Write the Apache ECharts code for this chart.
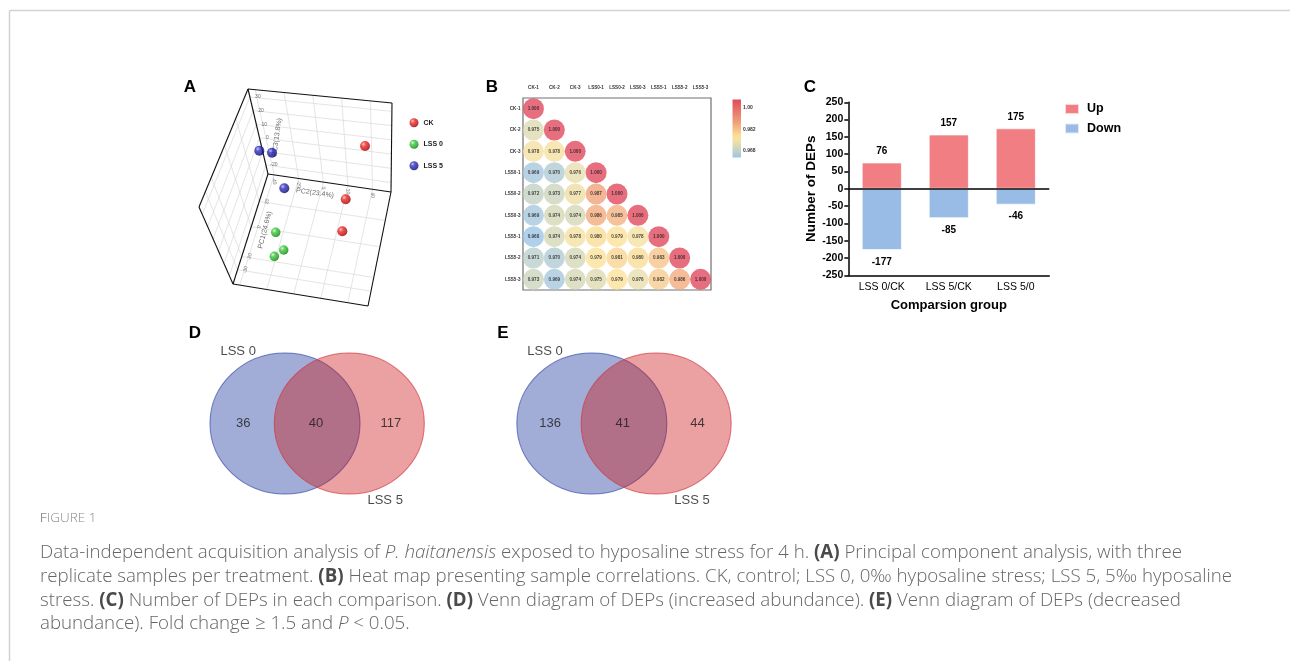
<!DOCTYPE html>
<html><head><meta charset="utf-8">
<script src="https://cdn.jsdelivr.net/npm/echarts@6/dist/echarts.min.js"></script>
<style>html,body{margin:0;padding:0;background:#fff}#c{width:1290px;height:661px}</style>
</head><body><div id="c"></div>
<script>
// ================= DATA =================
// (A) PCA – positions read from the projected 3D view (projection-plane units)
const pcaGroups = ['CK', 'LSS 0', 'LSS 5'];
const pcaCK   = [[185, 71], [165.7, 124.3], [162.3, 156.3]];
const pcaLSS0 = [[95.7, 157.3], [103.7, 175], [94.3, 181.3]];
const pcaLSS5 = [[79.3, 75.7], [92, 77.7], [104.3, 113.3]];
const pcaAxisTitles = ['PC1(24.6%)', 'PC2(23.4%)', 'PC3(13.8%)'];
const pc1TickLabels = ['20', '0', '-20', '-30'];
const pc2TickLabels = ['-40', '-20', '0', '20', '40'];
const pc3TickLabels = ['-20', '-10', '0', '10', '20', '30'];

// (B) sample correlations (lower triangle)
const samples = ['CK-1', 'CK-2', 'CK-3', 'LSS0-1', 'LSS0-2', 'LSS0-3', 'LSS5-1', 'LSS5-2', 'LSS5-3'];
const corrLower = [
  [1.000],
  [0.975, 1.000],
  [0.978, 0.978, 1.000],
  [0.969, 0.970, 0.976, 1.000],
  [0.972, 0.973, 0.977, 0.987, 1.000],
  [0.969, 0.974, 0.974, 0.986, 0.985, 1.000],
  [0.968, 0.974, 0.978, 0.980, 0.979, 0.978, 1.000],
  [0.971, 0.970, 0.974, 0.979, 0.981, 0.980, 0.983, 1.000],
  [0.973, 0.969, 0.974, 0.975, 0.979, 0.976, 0.982, 0.986, 1.000]
];
const corrMin = 0.968, corrMax = 1.0;
const corrLegendTicks = ['1.00', '0.982', '0.968'];

// (C) number of DEPs
const groups = ['LSS 0/CK', 'LSS 5/CK', 'LSS 5/0'];
const upCounts = [76, 157, 175];
const downCounts = [-177, -85, -46];
const yTicks = { min: -250, max: 250, step: 50 };

// (D)/(E) Venn
const vennSets = ['LSS 0', 'LSS 5'];
const vennIncreased = [36, 40, 117];
const vennDecreased = [136, 41, 44];

// ================= STYLE / LAYOUT =================
const FONT = '"Liberation Sans", Arial, Helvetica, sans-serif';
const CAPFONT = '"Open Sans", "Noto Sans", sans-serif';

// PCA box corners in the projection plane
const BOX = { O: [88, 99], A: [68, 14], TR: [212, 28], B: [211, 117], L: [19, 132], C: [53, 209], BR: [188, 231] };
const pc1Frac = [0.25, 0.48, 0.75, 0.87];
const pc2Frac = [0.05, 0.25, 0.45, 0.65, 0.85];
const pc3Frac = [0.106, 0.266, 0.426, 0.586, 0.746, 0.906];

function bil(p00, p10, p01, p11, s, t) {
  return [0, 1].map(k => p00[k] * (1 - s) * (1 - t) + p10[k] * s * (1 - t) + p01[k] * (1 - s) * t + p11[k] * s * t);
}
const back = [BOX.O, BOX.B, BOX.A, BOX.TR];   // s=PC2, t=PC3
const left = [BOX.O, BOX.C, BOX.A, BOX.L];    // s=PC1, t=PC3
const floor = [BOX.O, BOX.B, BOX.C, BOX.BR];  // s=PC2, t=PC1
const gridSegs = [];
pc2Frac.forEach(u => {
  gridSegs.push([bil(...back, u, 0), bil(...back, u, 1)]);
  gridSegs.push([bil(...floor, u, 0), bil(...floor, u, 1)]);
});
pc3Frac.forEach(w => {
  gridSegs.push([bil(...back, 0, w), bil(...back, 1, w)]);
  gridSegs.push([bil(...left, 0, w), bil(...left, 1, w)]);
});
pc1Frac.forEach(v => {
  gridSegs.push([bil(...left, v, 0), bil(...left, v, 1)]);
  gridSegs.push([bil(...floor, 0, v), bil(...floor, 1, v)]);
});
const edgeSegs = [['A', 'TR'], ['TR', 'B'], ['B', 'BR'], ['BR', 'C'], ['C', 'L'], ['L', 'A'], ['O', 'A'], ['O', 'B'], ['O', 'C']]
  .map(([a, b]) => [BOX[a], BOX[b]]);

function lerp(p, q, t) { return [p[0] + (q[0] - p[0]) * t, p[1] + (q[1] - p[1]) * t]; }
const pcaTextData = [];
pc3TickLabels.forEach((s, i) => { const p = lerp(BOX.O, BOX.A, pc3Frac[i]); pcaTextData.push({ value: [p[0] + 8, p[1]], name: s, rot: 0, fs: 5 }); });
pc2TickLabels.forEach((s, i) => { const p = lerp(BOX.O, BOX.B, pc2Frac[i]); pcaTextData.push({ value: [p[0], p[1] + 6], name: s, rot: -80, fs: 5 }); });
pc1TickLabels.forEach((s, i) => { const p = lerp(BOX.O, BOX.C, pc1Frac[i]); pcaTextData.push({ value: [p[0] + 8, p[1]], name: s, rot: 80, fs: 5 }); });
pcaTextData.push({ value: [85, 155], name: pcaAxisTitles[0], rot: 75, fs: 7 });
pcaTextData.push({ value: [135, 118], name: pcaAxisTitles[1], rot: -8, fs: 7 });
pcaTextData.push({ value: [97, 62], name: pcaAxisTitles[2], rot: 82, fs: 7 });

function sphere(light, mid, dark, deep) {
  return { type: 'radial', x: 0.35, y: 0.32, r: 0.75, colorStops: [
    { offset: 0, color: light }, { offset: 0.3, color: mid }, { offset: 0.75, color: dark }, { offset: 1, color: deep }] };
}
const pcaColors = [
  sphere('#ffc0c0', '#f02828', '#c00808', '#6a0000'),
  sphere('#d8ffd0', '#40c840', '#18a018', '#005a00'),
  sphere('#b8b8ff', '#3030c0', '#141490', '#000045')
];

// heat-map colours
const corrColorStops = [[0.968, '#9ec4e6'], [0.972, '#c4d2c4'], [0.976, '#e8deac'], [0.979, '#fbe29b'],
  [0.981, '#f9d593'], [0.984, '#f5bb85'], [0.988, '#ef9b77'], [0.994, '#e8736b'], [1.0, '#e04a5e']];
function hex2rgb(h) { return [1, 3, 5].map(i => parseInt(h.substr(i, 2), 16)); }
function colorAt(v) {
  for (let i = 1; i < corrColorStops.length; i++) {
    const [v1, c1] = corrColorStops[i - 1], [v2, c2] = corrColorStops[i];
    if (v <= v2) {
      const t = (v - v1) / (v2 - v1), a = hex2rgb(c1), b = hex2rgb(c2);
      return 'rgb(' + a.map((x, k) => Math.round(x + (b[k] - x) * t)).join(',') + ')';
    }
  }
  return corrColorStops[corrColorStops.length - 1][1];
}
const N_SAMPLES = 33;
const corrPalette = [];
for (let i = 0; i < N_SAMPLES; i++) corrPalette.push(colorAt(corrMin + (corrMax - corrMin) * i / (N_SAMPLES - 1)));

const heatData = [];
corrLower.forEach((row, r) => row.forEach((v, c) => heatData.push([c, r, v])));

// Venn layout (panel-local units)
const vennCy = 103.5, vennDx = 32.15, vennSize = [150, 141];
const vennPanels = [{ cx: 137.15, counts: vennIncreased }, { cx: 444, counts: vennDecreased }];
const countOffsets = [-73.9, -1.2, 73.6];
const ellipse = 'path://M0,50A50,50,0,1,1,100,50A50,50,0,1,1,0,50Z';
const vennBlue = vennPanels.map(p => [p.cx - vennDx, vennCy]);
const vennRed = vennPanels.map(p => [p.cx + vennDx, vennCy]);
const vennText = [];
vennPanels.forEach(p => {
  p.counts.forEach((n, i) => vennText.push({ value: [p.cx + countOffsets[i], vennCy], name: String(n), fs: 13 }));
  vennText.push({ value: [p.cx - 79, 31.2], name: vennSets[0], fs: 13 });
  vennText.push({ value: [p.cx + 68, 180.6], name: vennSets[1], fs: 13 });
});

// ================= CHART =================
const chart = echarts.init(document.getElementById('c'), null, { renderer: 'canvas', width: 1290, height: 661 });

const hiddenAxis = (gi, max, inv) => ({ gridIndex: gi, type: 'value', min: 0, max: max, inverse: !!inv, show: false, splitLine: { show: false } });

const capLines = [
  'Data-independent acquisition analysis of {i|P. haitanensis} exposed to hyposaline stress for 4 h. {b|(A)} Principal component analysis, with three',
  'replicate samples per treatment. {b|(B)} Heat map presenting sample correlations. CK, control; LSS 0, 0‰ hyposaline stress; LSS 5, 5‰ hyposaline',
  'stress. {b|(C)} Number of DEPs in each comparison. {b|(D)} Venn diagram of DEPs (increased abundance). {b|(E)} Venn diagram of DEPs (decreased',
  'abundance). Fold change ≥ 1.5 and {i|P} < 0.05.'
];
const CAPSIZE = 18.7;

const option = {
  animation: false,
  backgroundColor: '#ffffff',
  textStyle: { fontFamily: FONT },
  grid: [
    { left: 180, top: 75, width: 300, height: 240 },
    { left: 523, top: 98, width: 188, height: 192, show: true, borderColor: '#707070', borderWidth: 1.2, backgroundColor: 'rgba(0,0,0,0)' },
    { left: 848.3, top: 102.3, width: 201, height: 173 },
    { left: 180, top: 320, width: 560, height: 190 }
  ],
  xAxis: [
    hiddenAxis(0, 300),
    { gridIndex: 1, type: 'category', data: samples, position: 'top', axisLine: { show: false }, axisTick: { show: false },
      axisLabel: { fontSize: 4.6, fontWeight: 'bold', color: '#333', margin: 8 } },
    { gridIndex: 2, type: 'category', data: groups,
      axisLine: { onZero: false, lineStyle: { color: '#000', width: 1.5 } },
      axisTick: { alignWithLabel: true, length: 4, lineStyle: { color: '#000', width: 1.5 } },
      axisLabel: { fontSize: 10.5, color: '#000', margin: 6 },
      name: 'Comparsion group', nameLocation: 'middle', nameGap: 24,
      nameTextStyle: { fontSize: 13, fontWeight: 'bold', color: '#000' } },
    hiddenAxis(3, 560)
  ],
  yAxis: [
    hiddenAxis(0, 240, true),
    { gridIndex: 1, type: 'category', data: samples, inverse: true, axisLine: { show: false }, axisTick: { show: false },
      axisLabel: { fontSize: 4.6, fontWeight: 'bold', color: '#333', margin: 2.5 } },
    { gridIndex: 2, type: 'value', min: yTicks.min, max: yTicks.max, interval: yTicks.step,
      axisLine: { show: true, lineStyle: { color: '#000', width: 1.5 } },
      axisTick: { show: true, length: 4, lineStyle: { color: '#000', width: 1.5 } },
      axisLabel: { fontSize: 10.5, fontWeight: 'bold', color: '#000', margin: 5 },
      splitLine: { show: false },
      name: 'Number of DEPs', nameLocation: 'middle', nameGap: 30,
      nameTextStyle: { fontSize: 13.5, fontWeight: 'bold', color: '#000' } },
    hiddenAxis(3, 190, true)
  ],
  visualMap: [{
    type: 'continuous', show: false, seriesIndex: 7, dimension: 2,
    min: corrMin, max: corrMax, inRange: { color: corrPalette }
  }],
  legend: [
    { data: ['Up', 'Down'], left: 1059, top: 97.5, orient: 'vertical', icon: 'rect', itemWidth: 14, itemHeight: 10, itemGap: 6.5,
      textStyle: { fontSize: 12.5, fontWeight: 'bold', color: '#000', padding: [0, 0, 0, 3] } },
    { data: pcaGroups, left: 404.5, top: 113.2, orient: 'vertical', icon: 'circle', itemWidth: 9, itemHeight: 9, itemGap: 12.5,
      textStyle: { fontSize: 7, fontWeight: 'bold', color: '#222' } }
  ],
  series: [
    // 0 grid lines of 3D box
    { type: 'lines', coordinateSystem: 'cartesian2d', xAxisIndex: 0, yAxisIndex: 0, silent: true, z: 1,
      lineStyle: { color: '#d9d9d9', width: 0.7, opacity: 1 },
      data: gridSegs.map(s => ({ coords: s })) },
    // 1 edges of 3D box
    { type: 'lines', coordinateSystem: 'cartesian2d', xAxisIndex: 0, yAxisIndex: 0, silent: true, z: 2,
      lineStyle: { color: '#111', width: 1.1, opacity: 1 },
      data: edgeSegs.map(s => ({ coords: s })) },
    // 2 tick labels / axis titles
    { type: 'scatter', xAxisIndex: 0, yAxisIndex: 0, symbolSize: 0, silent: true, z: 3,
      data: pcaTextData.map(d => ({ value: d.value, name: d.name,
        label: { show: true, position: 'inside', formatter: '{b}', rotate: d.rot, fontSize: d.fs, color: '#444' } })) },
    // 3-5 PCA groups
    { name: pcaGroups[0], type: 'scatter', xAxisIndex: 0, yAxisIndex: 0, symbolSize: 10, z: 5, itemStyle: { color: pcaColors[0] }, data: pcaCK },
    { name: pcaGroups[1], type: 'scatter', xAxisIndex: 0, yAxisIndex: 0, symbolSize: 9.5, z: 5, itemStyle: { color: pcaColors[1] }, data: pcaLSS0 },
    { name: pcaGroups[2], type: 'scatter', xAxisIndex: 0, yAxisIndex: 0, symbolSize: 10, z: 5, itemStyle: { color: pcaColors[2] }, data: pcaLSS5 },
    // 6 placeholder (keeps indexes stable)
    { type: 'scatter', xAxisIndex: 0, yAxisIndex: 0, data: [] },
    // 7 correlation circles
    { type: 'scatter', xAxisIndex: 1, yAxisIndex: 1, symbolSize: 21, data: heatData,
      label: { show: true, position: 'inside', formatter: p => p.value[2].toFixed(3), fontSize: 4.6, fontWeight: 'bold', color: '#1a1a1a' } },
    // 8-9 DEP bars
    { name: 'Up', type: 'bar', xAxisIndex: 2, yAxisIndex: 2, stack: 'dep', barWidth: '60%', data: upCounts,
      itemStyle: { color: '#f07e82', borderColor: 'rgba(255,255,255,0.7)', borderWidth: 1 },
      label: { show: true, position: 'top', distance: 6, fontSize: 10, fontWeight: 'bold', color: '#000' },
      markLine: { silent: true, symbol: 'none', label: { show: false }, lineStyle: { color: '#000', width: 1.5, type: 'solid' }, data: [{ yAxis: 0 }] } },
    { name: 'Down', type: 'bar', xAxisIndex: 2, yAxisIndex: 2, stack: 'dep', barWidth: '60%', data: downCounts,
      itemStyle: { color: '#98bce5', borderColor: 'rgba(255,255,255,0.7)', borderWidth: 1 },
      label: { show: true, position: 'bottom', distance: 7, fontSize: 10, fontWeight: 'bold', color: '#000' } },
    // 10-11 Venn ellipses
    { type: 'scatter', xAxisIndex: 3, yAxisIndex: 3, symbol: ellipse, symbolSize: vennSize, silent: true, z: 2, data: vennBlue,
      itemStyle: { color: 'rgba(21,49,153,0.5)', borderColor: 'rgba(50,70,170,0.85)', borderWidth: 1 } },
    { type: 'scatter', xAxisIndex: 3, yAxisIndex: 3, symbol: ellipse, symbolSize: vennSize, silent: true, z: 3, data: vennRed,
      itemStyle: { color: 'rgba(205,17,21,0.5)', borderColor: 'rgba(210,50,60,0.85)', borderWidth: 1 } },
    // 12 Venn texts
    { type: 'scatter', xAxisIndex: 3, yAxisIndex: 3, symbolSize: 0, silent: true, z: 4,
      data: vennText.map(d => ({ value: d.value, name: d.name,
        label: { show: true, position: 'inside', formatter: '{b}', fontSize: d.fs, color: '#1a1a1a' } })) }
  ],
  graphic: [
    { type: 'line', shape: { x1: 9.5, y1: 10.5, x2: 1290, y2: 10.5 }, style: { stroke: '#d2d2d2', lineWidth: 1.5 }, silent: true },
    { type: 'line', shape: { x1: 9.5, y1: 10.5, x2: 9.5, y2: 661 }, style: { stroke: '#d2d2d2', lineWidth: 1.5 }, silent: true },
    ...[['A', 190, 87], ['B', 492, 87], ['C', 810, 87], ['D', 195, 333], ['E', 503, 333]].map(([t, x, y]) => ({
      type: 'text', x: x, y: y, silent: true,
      style: { text: t, fontSize: 17, fontWeight: 'bold', fontFamily: FONT, fill: '#000', align: 'center', verticalAlign: 'middle' } })),
    { type: 'rect', shape: { x: 732.5, y: 99.5, width: 8.5, height: 58 }, silent: true,
      style: { fill: { type: 'linear', x: 0, y: 0, x2: 0, y2: 1,
        colorStops: corrPalette.slice().reverse().map((c, i) => ({ offset: i / (N_SAMPLES - 1), color: c })) } } },
    ...corrLegendTicks.map((t, i) => ({ type: 'text', x: 743, y: [108, 130, 151][i], silent: true,
      style: { text: t, fontSize: 5, fontWeight: 'bold', fontFamily: FONT, fill: '#333', verticalAlign: 'middle' } })),
    { type: 'text', x: 40, y: 518, silent: true,
      style: { text: '{a|F}{b|IGURE 1}', verticalAlign: 'middle', fontFamily: CAPFONT, fill: '#888',
        rich: { a: { fontSize: 13.5, fontWeight: 300, fontFamily: CAPFONT, fill: '#555' },
                b: { fontSize: 13.5, fontWeight: 300, fontFamily: CAPFONT, fill: '#8a8a8a' } } } },
    ...capLines.map((t, i) => ({ type: 'text', x: 40, y: [553, 577, 600.5, 624][i], silent: true,
      style: { text: t, verticalAlign: 'middle', fontSize: CAPSIZE, fontWeight: 300, fontFamily: CAPFONT, fill: '#666',
        rich: { i: { fontSize: CAPSIZE, fontWeight: 300, fontStyle: 'italic', fontFamily: CAPFONT, fill: '#666' },
                b: { fontSize: CAPSIZE, fontWeight: 'bold', fontFamily: CAPFONT, fill: '#4a4a4a' } } } }))
  ]
};
chart.setOption(option);
</script>
</body></html>
